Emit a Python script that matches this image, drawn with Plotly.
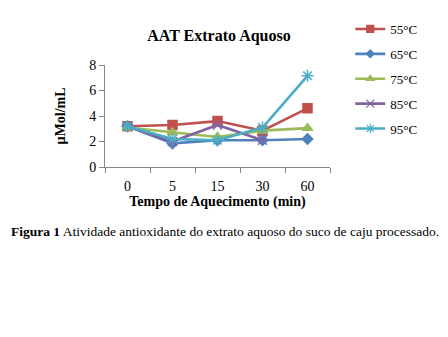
import plotly.graph_objects as go

# Heating time categories (min) and antioxidant activity (µMol/mL) per temperature
tempos = ["0", "5", "15", "30", "60"]
series_names = ["55°C", "65°C", "75°C", "85°C", "95°C"]
aat_55 = [3.2, 3.3, 3.6, 2.85, 4.6]
aat_65 = [3.2, 1.85, 2.1, 2.1, 2.2]
aat_75 = [3.1, 2.7, 2.35, 2.85, 3.05]
aat_85 = [3.2, 2.0, 3.3, 2.1, None]
aat_95 = [3.2, 2.2, 2.1, 3.1, 7.15]

values = [aat_55, aat_65, aat_75, aat_85, aat_95]
colors = ["#C0504D", "#4F81BD", "#9BBB59", "#8064A2", "#4BACC6"]
symbols = ["square", "diamond", "triangle-up", "x-thin-open", "asterisk-open"]
msizes = [9, 8, 9, 9, 10]
legend_msizes = [7, 6, 7, 8, 8]

serif = "Liberation Serif"

fig = go.Figure()
for name, ys, c, s, ms in zip(series_names, values, colors, symbols, msizes):
    fig.add_trace(go.Scatter(
        x=tempos, y=ys, name=name, mode="lines+markers",
        line=dict(color=c, width=2.6),
        marker=dict(symbol=s, size=ms, color=c, line=dict(color=c, width=1.5)),
        legendgroup=name, showlegend=False, connectgaps=False,
    ))
# legend entries with smaller key markers
for name, c, s, ms in zip(series_names, colors, symbols, legend_msizes):
    fig.add_trace(go.Scatter(
        x=[None], y=[None], name=name, mode="lines+markers",
        line=dict(color=c, width=2.6),
        marker=dict(symbol=s, size=ms, color=c, line=dict(color=c, width=1.2)),
        legendgroup=name, showlegend=True,
    ))

fig.update_layout(
    width=448, height=337,
    margin=dict(l=105, r=118, t=65, b=170),
    paper_bgcolor="white", plot_bgcolor="white",
    font=dict(family=serif, size=13, color="black"),
    title=dict(text="<b>AAT Extrato Aquoso</b>", x=(219 / 448), xanchor="center",
               y=1 - 35 / 337, yanchor="middle", font=dict(size=16, family=serif)),
    showlegend=True,
    legend=dict(x=1.09, xanchor="left", y=1 + 51 / 102, yanchor="top",
                font=dict(size=13, family=serif), itemwidth=30,
                tracegroupgap=5, bgcolor="rgba(0,0,0,0)"),
    annotations=[dict(
        text="<b>Figura 1</b> Atividade antioxidante do extrato aquoso do suco de caju processado.",
        xref="paper", yref="paper", x=(9 - 105) / 225, y=-(231 - 167) / 102,
        xanchor="left", yanchor="middle", showarrow=False,
        font=dict(size=13.5, family=serif, color="black"))],
)

fig.update_xaxes(
    type="category", categoryorder="array", categoryarray=tempos,
    range=[-0.5, 4.5], tickson="boundaries",
    ticks="outside", ticklen=5, tickcolor="#868686", ticklabelstandoff=6,
    showline=True, linecolor="#868686", linewidth=1, showgrid=False,
    tickfont=dict(size=14, family=serif),
    title=dict(text="<b>Tempo de Aquecimento (min)</b>", standoff=2,
               font=dict(size=14, family=serif)),
)
fig.update_yaxes(
    range=[0, 8], dtick=2, ticks="outside", ticklen=5, tickcolor="#868686",
    showline=True, linecolor="#868686", linewidth=1, showgrid=False, zeroline=False,
    tickfont=dict(size=14, family=serif),
    title=dict(text="<b>µMol/mL</b>", standoff=20, font=dict(size=14, family=serif)),
)

fig.write_html("out.html")
